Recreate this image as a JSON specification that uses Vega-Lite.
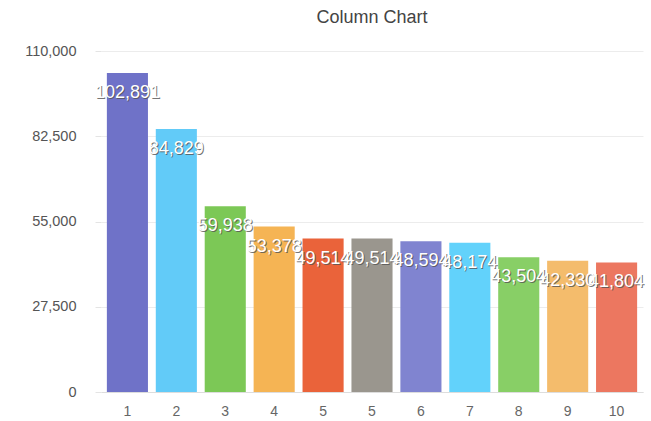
{
  "$schema": "https://vega.github.io/schema/vega-lite/v6.json",
  "autosize": {"type": "fit", "contains": "padding"},
  "width": 651,
  "height": 421,
  "padding": {"left": 24, "right": 8, "top": 9, "bottom": 3},
  "title": {"text": "Column Chart", "fontSize": 18, "fontWeight": "normal", "color": "#444", "font": "Liberation Sans", "offset": 16, "anchor": "middle"},
  "config": {"view": {"stroke": null}, "font": "Liberation Sans"},
  "data": {"values": [
    {"label": "1", "value": 102891, "color": "#6f72c8"},
    {"label": "2", "value": 84829, "color": "#62cbf8"},
    {"label": "3", "value": 59938, "color": "#7cc856"},
    {"label": "4", "value": 53378, "color": "#f5b454"},
    {"label": "5", "value": 49514, "color": "#ea633a"},
    {"label": "5 ", "value": 49514, "color": "#9a968e"},
    {"label": "6", "value": 48594, "color": "#8084d0"},
    {"label": "7", "value": 48174, "color": "#62d2fb"},
    {"label": "8", "value": 43504, "color": "#88cf66"},
    {"label": "9", "value": 42330, "color": "#f4bc6c"},
    {"label": "10", "value": 41804, "color": "#ec7760"}
  ]},
  "encoding": {
    "x": {"field": "label", "type": "ordinal", "sort": null, "title": null,
      "scale": {"paddingInner": 0.16, "paddingOuter": 0.12},
      "axis": {"labelAngle": 0, "labelFontSize": 14, "labelColor": "#666", "labelPadding": 12, "ticks": false, "domainColor": "#ddd", "grid": false}},
    "y": {"field": "value", "type": "quantitative", "title": null,
      "scale": {"domain": [0, 110000], "nice": false},
      "axis": {"values": [0, 27500, 55000, 82500, 110000], "labelExpr": "format(datum.value, ',')", "labelFontSize": 14.5, "labelColor": "#555", "labelPadding": 19, "tickSize": 6, "tickColor": "#e4e4e4", "domain": false, "gridColor": "#ececec"}}
  },
  "layer": [
    {"mark": {"type": "bar"}, "encoding": {"color": {"field": "color", "type": "nominal", "scale": null}}},
    {"mark": {"type": "text", "baseline": "middle", "dy": 21, "dx": 1, "fontSize": 18, "fill": "#555", "opacity": 0.8}, "encoding": {"text": {"field": "value", "format": ","}}},
    {"mark": {"type": "text", "baseline": "middle", "dy": 20, "fontSize": 18, "fill": "#ffffff"}, "encoding": {"text": {"field": "value", "format": ","}}}
  ]
}
